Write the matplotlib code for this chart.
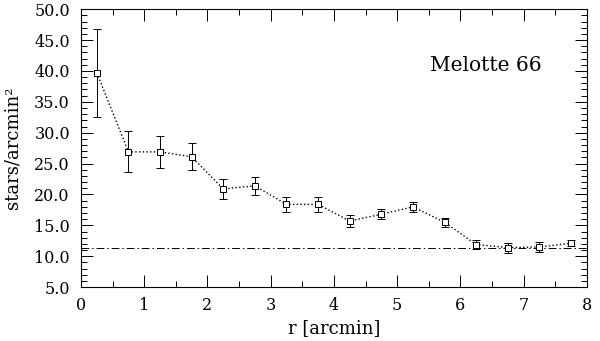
import numpy as np
import matplotlib
matplotlib.use("Agg")
import matplotlib.pyplot as plt
from matplotlib.ticker import MultipleLocator, FormatStrFormatter

r = [0.25, 0.75, 1.25, 1.75, 2.25, 2.75, 3.25, 3.75, 4.25, 4.75, 5.25, 5.75, 6.25, 6.75, 7.25, 7.75]
density = [39.7, 26.9, 26.9, 26.1, 20.9, 21.4, 18.4, 18.4, 15.7, 16.8, 18.0, 15.5, 11.9, 11.4, 11.5, 12.1]
err = [7.1, 3.3, 2.6, 2.2, 1.6, 1.5, 1.2, 1.2, 1.0, 0.8, 0.8, 0.7, 0.8, 0.8, 0.8, 0.5]
background = 11.4

plt.rcParams['font.family'] = 'DejaVu Serif'

fig = plt.figure(figsize=(6, 3.41), dpi=100)
ax = fig.add_axes([0.135, 0.158, 0.843, 0.815])

ax.errorbar(r, density, yerr=err, fmt='s', ms=3.8, mfc='white', mec='black', mew=0.7,
            ecolor='black', elinewidth=0.7, capsize=3, capthick=0.7, zorder=3)
ax.plot(r, density, ls=':', color='black', lw=1.0, zorder=2)
ax.axhline(background, color='black', lw=0.7, ls='-.', dashes=(8, 3, 1.5, 3))

ax.set_xlim(0, 8)
ax.set_ylim(5, 50)
ax.xaxis.set_major_locator(MultipleLocator(1))
ax.xaxis.set_minor_locator(MultipleLocator(0.5))
ax.yaxis.set_major_locator(MultipleLocator(5))
ax.yaxis.set_minor_locator(MultipleLocator(1))
ax.yaxis.set_major_formatter(FormatStrFormatter('%.1f'))
ax.tick_params(which='both', direction='in', top=True, right=True, width=0.7, labelsize=11.5)
ax.tick_params(which='major', length=8.5)
ax.tick_params(which='minor', length=4.3)
ax.tick_params(axis='y', which='major', pad=8)
ax.tick_params(axis='x', which='major', pad=7)
for s in ax.spines.values():
    s.set_linewidth(0.8)

ax.set_xlabel('r [arcmin]', fontsize=13, labelpad=4)
ax.set_ylabel('stars/arcmin²', fontsize=13, labelpad=9)
ax.text(5.52, 40.0, 'Melotte 66', fontsize=14.5)

fig.savefig('out.png', dpi=100)
